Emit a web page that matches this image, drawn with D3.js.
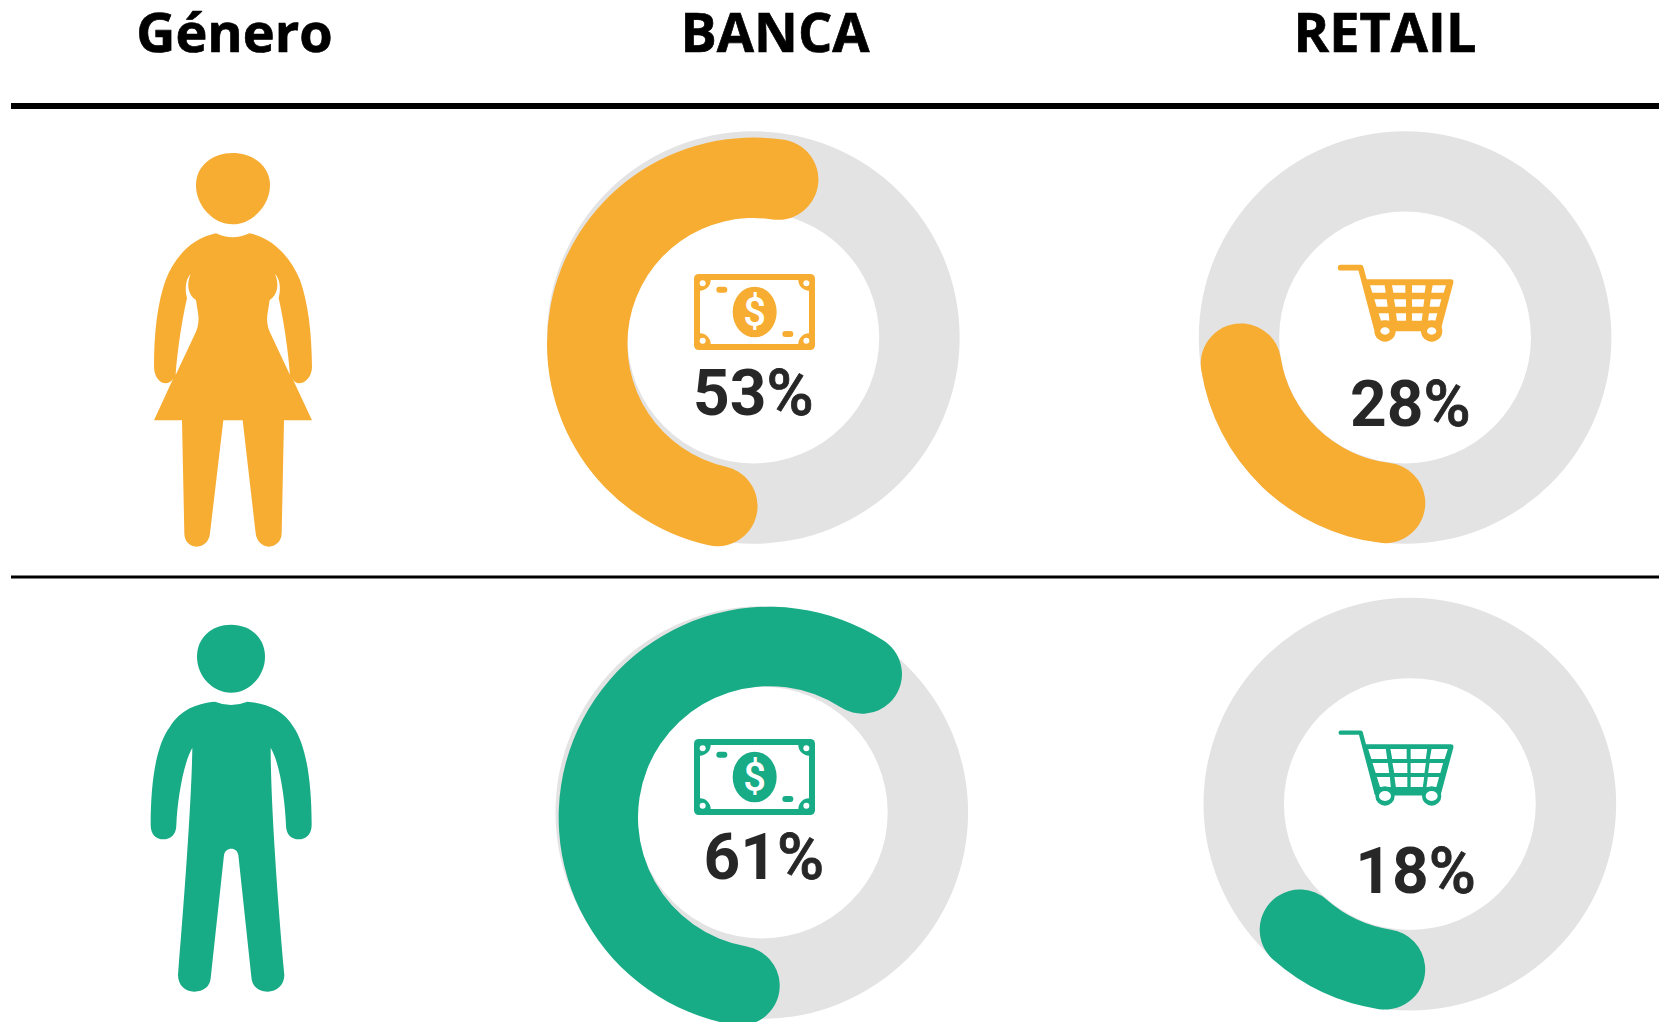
<!DOCTYPE html>
<html><head><meta charset="utf-8">
<script src="https://cdn.jsdelivr.net/npm/d3@7"></script>
<style>html,body{margin:0;padding:0;background:#fff;overflow:hidden}svg{display:block}</style>
</head><body><div id="c"></div>
<script>
// DATA
const columns = ["Género","BANCA","RETAIL"];
const labelNumbers = ["53","28","61","18"];
// ring length actually drawn, in % of the circle
const ringValues = [56.7,28.4,63.9,16.9];
const ringColors = ["Mujer","Mujer","Hombre","Hombre"];
const palette = {Mujer:"#F7AC32",Hombre:"#17AB86"};

const W=1659,H=1022,k=1659/1568;
const svg=d3.select("#c").append("svg").attr("width",W).attr("height",H);
const ang=d3.scaleLinear().domain([0,100]).range([0,2*Math.PI]);
const rOuter=195*k,rInner=119*k;

// header
const headX=[234.5,775,1385];
svg.selectAll("text.h").data(columns).join("text").attr("class","h")
 .attr("x",(d,i)=>headX[i]).attr("y",52)
 .attr("text-anchor","middle").attr("font-family","Open Sans").attr("font-weight",700)
 .attr("font-size",54).attr("fill","#000").attr("stroke","#000").attr("stroke-width",0.7).text(d=>d);
svg.append("rect").attr("x",11).attr("y",103).attr("width",W-11).attr("height",6).attr("fill","#000");
svg.append("rect").attr("x",11).attr("y",575.5).attr("width",W-11).attr("height",3).attr("fill","#000");

// layout of each ring
const geo=[
 {g:[712,319],a:[712,325],t:[712,392],start:178.5,ro:rOuter,ri:rInner},
 {g:[1328,319],a:[1328,319.5],t:[1333,403],start:172.9,ro:rOuter,ri:rInner},
 {g:[720,768],a:[727,772.5],t:[722,831],start:176.4,ro:199*k,ri:124*k},
 {g:[1332.5,760],a:[1332.5,761],t:[1338,844],start:174.6,ro:rOuter,ri:rInner}];
geo.forEach((g,i)=>{
  const G=svg.append("g");
  G.append("path").attr("transform",`translate(${g.g[0]*k},${g.g[1]*k})`)
   .attr("d",d3.arc().innerRadius(rInner).outerRadius(rOuter)({startAngle:0,endAngle:2*Math.PI})).attr("fill","#E3E3E3");
  const s=g.start*Math.PI/180;
  G.append("path").attr("transform",`translate(${g.a[0]*k},${g.a[1]*k})`)
   .attr("d",d3.arc().innerRadius(g.ri).outerRadius(g.ro).cornerRadius((g.ro-g.ri)/2)({startAngle:s,endAngle:s+ang(ringValues[i])}))
   .attr("fill",palette[ringColors[i]]);
  const t=G.append("text").attr("x",g.t[0]*k).attr("y",g.t[1]*k).attr("text-anchor","middle")
   .attr("font-family","Roboto").attr("font-size",64).attr("fill","#272727");
  t.append("tspan").attr("font-weight",700).text(labelNumbers[i]);
  t.append("tspan").attr("font-weight",500).attr("stroke","#272727").attr("stroke-width",0.8).text("%");
});

// icons
function money(x,y,c){
 const g=svg.append("g").attr("transform",`translate(${x},${y}) scale(${1/3})`);
 g.append("rect").attr("x",72).attr("y",72).attr("width",363).attr("height",228).attr("rx",14).attr("fill",c);
 const r=32;
 g.append("path").attr("fill","#fff").attr("d",`M${90+r},90H${417-r}A${r},${r} 0 0 0 417,${90+r}V${282-r}A${r},${r} 0 0 0 ${417-r},282H${90+r}A${r},${r} 0 0 0 90,${282-r}V${90+r}A${r},${r} 0 0 0 ${90+r},90Z`);
 [[98,100],[409,100],[98,272],[409,272]].forEach(p=>g.append("circle").attr("cx",p[0]).attr("cy",p[1]).attr("r",9).attr("fill","#fff"));
 g.append("rect").attr("x",139).attr("y",110).attr("width",33).attr("height",18).attr("rx",9).attr("fill",c);
 g.append("rect").attr("x",337).attr("y",243).attr("width",33).attr("height",18).attr("rx",9).attr("fill",c);
 g.append("ellipse").attr("cx",254).attr("cy",186).attr("rx",66).attr("ry",76).attr("fill",c);
 g.append("text").attr("x",254).attr("y",228).attr("text-anchor","middle").attr("font-family","Roboto").attr("font-weight",500).attr("font-size",120).attr("fill","#fff").text("$");
}
function cart(x,y,c,thin){
 const g=svg.append("g").attr("transform",`translate(${x},${y}) scale(${1/3})`);
 g.append("path").attr("d","M62,53H122L170,235H352").attr("fill","none").attr("stroke",c).attr("stroke-width",thin?13:17).attr("stroke-linecap","round").attr("stroke-linejoin","round");
 g.append("path").attr("d","M135,88H392Q402,88 400,98L362,240H165Z").attr("fill",c);
 const cells=[
  "M150,106H194L197,128H157Z","M216,106H256L256,128H220Z","M276,106H317L314,128H276Z","M338,106H378L371,128H334Z",
  "M163,148H200L203,170H170Z","M222,148H258L258,170H226Z","M276,148H313L310,170H276Z","M332,148H364L358,170H329Z",
  "M176,190H206L208,212H183Z","M228,190H258L258,212H231Z","M276,190H308L305,212H276Z","M327,190H352L346,212H324Z"];
 cells.forEach(d=>g.append("path").attr("d",d).attr("fill","#fff").attr("stroke","#fff").attr("stroke-width",thin?8:0));
 [195,335].forEach(cx=>{
  g.append("circle").attr("cx",cx).attr("cy",243).attr("r",thin?29:32).attr("fill",c);
  g.append("ellipse").attr("cx",cx).attr("cy",243).attr("rx",thin?18:14).attr("ry",thin?15:11).attr("fill","#fff");
 });
}
money(670,250,palette.Mujer);
money(670,715,palette.Hombre);
cart(1320,250,palette.Mujer,false);
cart(1320,715,palette.Hombre,true);

// woman
const w=svg.append("g").attr("transform","translate(100,130) scale(0.33333)").attr("fill",palette.Mujer);
w.append("path").attr("d","M398,69C458,69 510,107 510,165C510,228 455,283 398,283C340,283 288,228 288,165C288,107 338,69 398,69Z");
w.append("path").attr("d","M348,310Q398,334 448,310C520,325 570,380 600,450C625,520 635,610 636,710C636,740 615,760 597,760C588,760 582,755 577,745L636,871H552L545,1210C545,1235 525,1250 507,1250C488,1250 470,1235 467,1210L428,871H370L330,1210C328,1235 310,1250 290,1250C270,1250 253,1235 253,1210L246,871H162L220,745C215,755 205,760 197,760C180,760 162,740 162,710C162,610 172,520 197,450C225,380 275,325 348,310Z");
const gap="M272,432C258,445 253,475 261,505C248,560 232,660 227,735L288,605C295,590 297,570 295,555L288,510C265,495 258,465 272,432Z";
w.append("path").attr("d",gap).attr("fill","#fff");
w.append("path").attr("d",gap).attr("fill","#fff").attr("transform","translate(797,0) scale(-1,1)");

// man
const m=svg.append("g").attr("transform","translate(100,590) scale(0.33333)").attr("fill",palette.Hombre);
m.append("path").attr("d","M393,104C450,104 495,142 495,200C495,258 448,308 393,308C338,308 291,258 291,200C291,142 336,104 393,104Z");
m.append("path").attr("d","M345,335Q393,355 442,335C500,340 550,360 580,410C615,460 635,560 635,705C635,735 615,748 597,748C575,748 558,735 558,705C555,630 540,520 512,473C512,620 530,900 553,1155C553,1185 530,1205 503,1205C478,1205 455,1190 454,1160L415,795C413,783 405,776 394,776C383,776 374,783 372,795L332,1165C330,1190 310,1205 283,1205C255,1205 234,1185 234,1155C255,900 275,620 277,473C250,520 232,630 229,705C229,735 210,748 190,748C170,748 152,735 152,705C152,560 172,460 210,410C240,360 290,340 345,335Z");
</script></body></html>
